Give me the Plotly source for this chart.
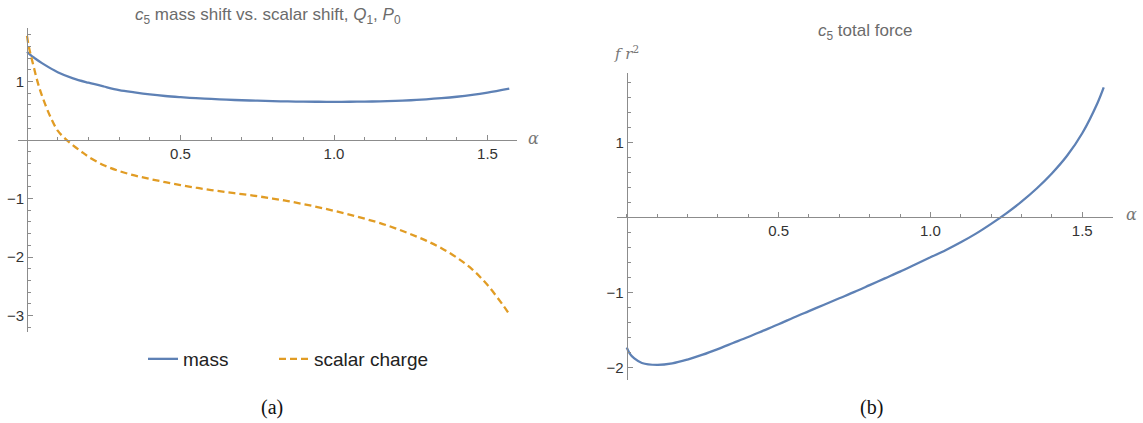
import plotly.graph_objects as go

# panel (a): c5 mass shift vs scalar shift
alpha_mass = [0, 0.01, 0.025, 0.05, 0.1, 0.15, 0.2, 0.25, 0.3, 0.35, 0.4, 0.45, 0.5,
              0.55, 0.6, 0.65, 0.7, 0.75, 0.8, 0.85, 0.9, 0.95, 1.0, 1.05, 1.1, 1.15,
              1.2, 1.25, 1.3, 1.35, 1.4, 1.45, 1.5, 1.5708]
mass = [1.51, 1.46, 1.40, 1.31, 1.16, 1.055, 0.98, 0.915, 0.855, 0.815, 0.78, 0.753,
        0.733, 0.716, 0.702, 0.69, 0.68, 0.672, 0.665, 0.66, 0.656, 0.654, 0.653,
        0.654, 0.657, 0.662, 0.67, 0.68, 0.695, 0.715, 0.74, 0.772, 0.812, 0.88]

alpha_scalar = [0, 0.005, 0.01, 0.02, 0.03, 0.04, 0.05, 0.075, 0.1, 0.125, 0.15, 0.175,
                0.2, 0.25, 0.3, 0.35, 0.4, 0.45, 0.5, 0.55, 0.6, 0.65, 0.7, 0.75, 0.8,
                0.85, 0.9, 0.95, 1.0, 1.05, 1.1, 1.15, 1.2, 1.25, 1.3, 1.35, 1.4, 1.45,
                1.5, 1.55, 1.5708]
scalar_charge = [1.78, 1.62, 1.50, 1.29, 1.08, 0.895, 0.74, 0.41, 0.16, 0.02, -0.09,
                 -0.19, -0.285, -0.43, -0.53, -0.605, -0.665, -0.72, -0.77, -0.815,
                 -0.855, -0.89, -0.925, -0.96, -1.0, -1.045, -1.095, -1.15, -1.21,
                 -1.275, -1.345, -1.42, -1.51, -1.61, -1.72, -1.85, -2.01, -2.21,
                 -2.48, -2.82, -2.98]

# panel (b): c5 total force
alpha_force = [0, 0.01, 0.025, 0.05, 0.1, 0.15, 0.2, 0.25, 0.3, 0.35, 0.4, 0.45, 0.5,
               0.55, 0.6, 0.65, 0.7, 0.75, 0.8, 0.85, 0.9, 0.95, 1.0, 1.05, 1.1, 1.15,
               1.2, 1.25, 1.3, 1.35, 1.4, 1.45, 1.5, 1.55, 1.5708]
total_force = [-1.73, -1.81, -1.875, -1.935, -1.96, -1.94, -1.89, -1.825, -1.75, -1.67,
               -1.59, -1.505, -1.42, -1.33, -1.245, -1.16, -1.075, -0.99, -0.9, -0.81,
               -0.72, -0.625, -0.53, -0.435, -0.33, -0.215, -0.085, 0.055, 0.21, 0.385,
               0.585, 0.82, 1.12, 1.52, 1.73]

x_ticks = [0.5, 1.0, 1.5]
x_ticktext = ["0.5", "1.0", "1.5"]
ya_ticks = [-3, -2, -1, 1]
yb_ticks = [-2, -1, 1]

W, H = 1143, 423
BLUE = "#5E81B5"
ORANGE = "#E19C24"
AXIS = "#8c8c8c"
SANS = "Liberation Sans, Arial, sans-serif"
TICKFONT = dict(family=SANS, size=15, color="#333333")
TITLEFONT = dict(family=SANS, size=17, color="#6b6b6b")


def px_x(p):
    return p / W


def px_y(p):
    return 1 - p / H


def zero_pos(rng, dom):
    return dom[0] + (0 - rng[0]) / (rng[1] - rng[0]) * (dom[1] - dom[0])


# panel geometry (pixels) and data ranges
xa_rng, ya_rng = [-0.03, 1.595], [-3.28, 1.91]
xa_dom, ya_dom = [px_x(17.8), px_x(516.7)], [px_y(331.9), px_y(28.3)]
xb_rng, yb_rng = [-0.033, 1.602], [-2.16, 1.92]
xb_dom, yb_dom = [px_x(616.7), px_x(1113.2)], [px_y(379.9), px_y(73.1)]

fig = go.Figure()
fig.add_trace(go.Scatter(x=alpha_mass, y=mass, mode="lines", name="mass",
                         line=dict(color=BLUE, width=2.3, shape="spline"),
                         xaxis="x", yaxis="y", legend="legend"))
fig.add_trace(go.Scatter(x=alpha_scalar, y=scalar_charge, mode="lines", name="scalar charge",
                         line=dict(color=ORANGE, width=2.3, dash="7px,4px", shape="spline"),
                         xaxis="x", yaxis="y", legend="legend2"))
fig.add_trace(go.Scatter(x=alpha_force, y=total_force, mode="lines", showlegend=False,
                         line=dict(color=BLUE, width=2.3, shape="spline"),
                         xaxis="x2", yaxis="y2"))


def xaxis(rng, dom, ypos):
    return dict(range=rng, domain=dom, anchor="free", position=ypos,
                showline=True, linecolor=AXIS, linewidth=1, showgrid=False, zeroline=False,
                tickmode="array", tickvals=x_ticks, ticktext=x_ticktext,
                ticks="inside", ticklen=5, tickcolor=AXIS, tickfont=TICKFONT,
                minor=dict(ticks="inside", ticklen=3, tickcolor=AXIS, tick0=0, dtick=0.1),
                fixedrange=True)


def yaxis(rng, dom, xpos, vals):
    return dict(range=rng, domain=dom, anchor="free", position=xpos,
                showline=True, linecolor=AXIS, linewidth=1, showgrid=False, zeroline=False,
                tickmode="array", tickvals=vals,
                ticktext=[str(v).replace("-", "\u2212") for v in vals],
                ticks="inside", ticklen=5, tickcolor=AXIS, tickfont=TICKFONT,
                minor=dict(ticks="inside", ticklen=3, tickcolor=AXIS, tick0=0, dtick=0.2),
                fixedrange=True)


legend_font = dict(family=SANS, size=19, color="#222222")
fig.update_layout(
    width=W, height=H,
    margin=dict(l=0, r=0, t=0, b=0),
    paper_bgcolor="white", plot_bgcolor="white",
    xaxis=xaxis(xa_rng, xa_dom, zero_pos(ya_rng, ya_dom)),
    yaxis=yaxis(ya_rng, ya_dom, zero_pos(xa_rng, xa_dom), ya_ticks),
    xaxis2=xaxis(xb_rng, xb_dom, zero_pos(yb_rng, yb_dom)),
    yaxis2=yaxis(yb_rng, yb_dom, zero_pos(xb_rng, xb_dom), yb_ticks),
    legend=dict(orientation="h", x=px_x(143), y=px_y(359), xanchor="left", yanchor="middle",
                font=legend_font, bgcolor="rgba(0,0,0,0)"),
    legend2=dict(orientation="h", x=px_x(274), y=px_y(359), xanchor="left", yanchor="middle",
                 font=legend_font, bgcolor="rgba(0,0,0,0)"),
)

annotations = [
    dict(x=px_x(268), y=px_y(16),
         text="<i>c</i><sub>5</sub> mass shift vs. scalar shift, <i>Q</i><sub>1</sub>, <i>P</i><sub>0</sub>",
         font=TITLEFONT),
    dict(x=px_x(865), y=px_y(32), text="<i>c</i><sub>5</sub> total force", font=TITLEFONT),
    dict(x=px_x(533), y=px_y(138), text="<i>α</i>",
         font=dict(family="DejaVu Serif, serif", size=16, color="#777777")),
    dict(x=px_x(1131), y=px_y(215), text="<i>α</i>",
         font=dict(family="DejaVu Serif, serif", size=16, color="#777777")),
    dict(x=px_x(626), y=px_y(53), text="<i>f r</i><sup>2</sup>",
         font=dict(family="DejaVu Serif, serif", size=15, color="#777777")),
    dict(x=px_x(272), y=px_y(407), text="(a)",
         font=dict(family="Liberation Serif, DejaVu Serif, serif", size=20, color="#111111")),
    dict(x=px_x(871), y=px_y(407), text="(b)",
         font=dict(family="Liberation Serif, DejaVu Serif, serif", size=20, color="#111111")),
]
for a in annotations:
    a.update(xref="paper", yref="paper", showarrow=False, xanchor="center", yanchor="middle")
fig.update_layout(annotations=annotations)

# drop the browser's default 8px body margin so the figure sits at the page origin
fig.write_html("out.html", config={"displayModeBar": False},
               post_script="document.body.style.margin = '0';")
